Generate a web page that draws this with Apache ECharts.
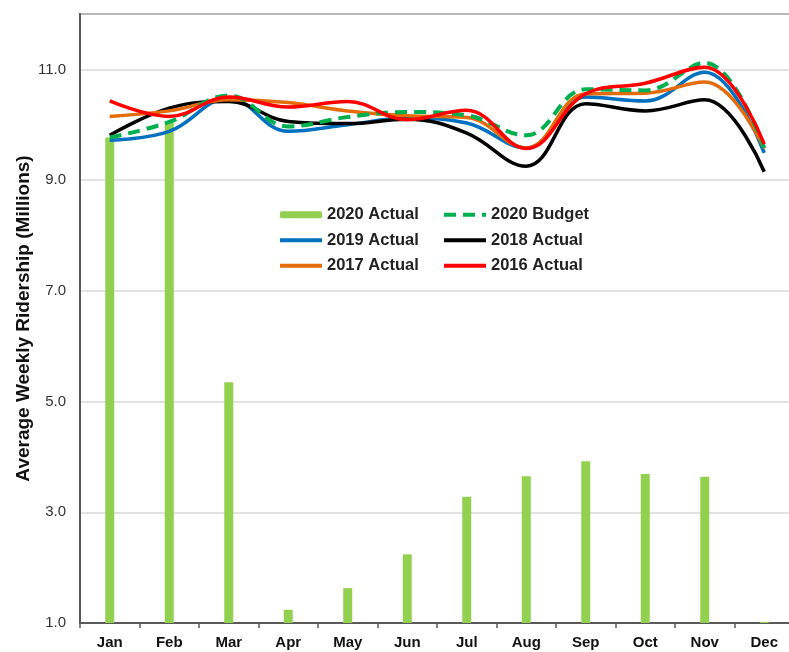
<!DOCTYPE html>
<html>
<head>
    <meta charset="utf-8">
    <title>Ridership</title>
    <script src="https://cdn.jsdelivr.net/npm/echarts@6/dist/echarts.min.js"></script>
</head>
<body style="margin:0;">
    <div id="main" style="width: 789px;height:652px;"></div>
    <script type="text/javascript">
        var months = ['Jan','Feb','Mar','Apr','May','Jun','Jul','Aug','Sep','Oct','Nov','Dec']
        var actual2020 = [9.77, 10.05, 5.35, 1.24, 1.63, 2.24, 3.28, 3.65, 3.92, 3.69, 3.64, 1.02]
        var budget2020 = [9.77, 10.05, 10.53, 9.97, 10.14, 10.23, 10.17, 9.81, 10.64, 10.62, 11.12, 9.58]
        var actual2019 = [9.72, 9.88, 10.48, 9.88, 10.0, 10.12, 10.03, 9.58, 10.5, 10.43, 10.95, 9.49]
        var actual2018 = [9.81, 10.3, 10.42, 10.06, 10.02, 10.1, 9.85, 9.25, 10.38, 10.25, 10.45, 9.15]
        var actual2017 = [10.15, 10.25, 10.45, 10.4, 10.25, 10.16, 10.13, 9.58, 10.56, 10.57, 10.77, 9.57]
        var actual2016 = [10.43, 10.15, 10.5, 10.32, 10.42, 10.09, 10.26, 9.57, 10.56, 10.75, 11.04, 9.65]

        function lineSeries(name, data, color, dashed) {
            return {
                name: name,
                type: 'line',
                data: data,
                smooth: 0.4,
                symbol: 'none',
                lineStyle: {
                    color: color,
                    width: dashed ? 4 : 3.5,
                    type: dashed ? [12, 7] : 'solid'
                },
                itemStyle: { color: color }
            }
        }

        // line legend entries: hide the symbol dot, thicker line
        function lineEntry(name) {
            return { name: name, itemStyle: { opacity: 0 }, lineStyle: { width: 4 } }
        }

        var myChart = echarts.init(document.getElementById('main'))
        var option = {
            animation: false,
            backgroundColor: '#ffffff',
            grid: {
                left: 80, top: 14, width: 714, bottom: 29,
                outerBoundsMode: 'none',
                show: true, borderColor: '#595959', borderWidth: 2
            },
            legend: {
                data: [
                    { name: '2020 Actual' },
                    lineEntry('2020 Budget'),
                    lineEntry('2019 Actual'),
                    lineEntry('2018 Actual'),
                    lineEntry('2017 Actual'),
                    lineEntry('2016 Actual')
                ],
                left: 278,
                top: 202,
                width: 330,
                padding: 0,
                itemGap: 0,
                itemWidth: 42,
                itemHeight: 7,
                textStyle: {
                    fontFamily: 'Liberation Sans',
                    fontWeight: 'bold',
                    fontSize: 16.5,
                    color: '#222',
                    width: 115,
                    lineHeight: 25.5
                }
            },
            xAxis: {
                type: 'category',
                data: months,
                axisLine: { lineStyle: { color: '#595959', width: 2 } },
                axisTick: { show: true, length: 5, lineStyle: { color: '#595959', width: 1.5 } },
                axisLabel: {
                    fontFamily: 'Liberation Sans', fontWeight: 'bold', fontSize: 15,
                    color: '#111', margin: 12
                }
            },
            yAxis: {
                type: 'value',
                min: 1, max: 12, interval: 2,
                name: 'Average Weekly Ridership (Millions)',
                nameLocation: 'middle',
                nameGap: 47,
                nameMoveOverlap: false,
                nameTextStyle: {
                    fontFamily: 'Liberation Sans', fontWeight: 'bold', fontSize: 19, color: '#111'
                },
                axisLine: { show: true, lineStyle: { color: '#595959', width: 2 } },
                axisTick: { show: false },
                axisLabel: {
                    showMaxLabel: false,
                    fontFamily: 'Liberation Sans', fontSize: 15, color: '#333', margin: 14,
                    formatter: function (v) { return v.toFixed(1) }
                },
                splitLine: { lineStyle: { color: '#d9d9d9', width: 1.5 } }
            },
            series: [
                {
                    name: '2020 Actual',
                    type: 'bar',
                    data: actual2020,
                    barWidth: 9,
                    itemStyle: { color: '#92d050' }
                },
                lineSeries('2019 Actual', actual2019, '#0070c0', false),
                lineSeries('2018 Actual', actual2018, '#000000', false),
                lineSeries('2017 Actual', actual2017, '#e46c0a', false),
                lineSeries('2020 Budget', budget2020, '#00b050', true),
                lineSeries('2016 Actual', actual2016, '#ff0000', false)
            ]
        };
        myChart.setOption(option);
    </script>
</body>
</html>
